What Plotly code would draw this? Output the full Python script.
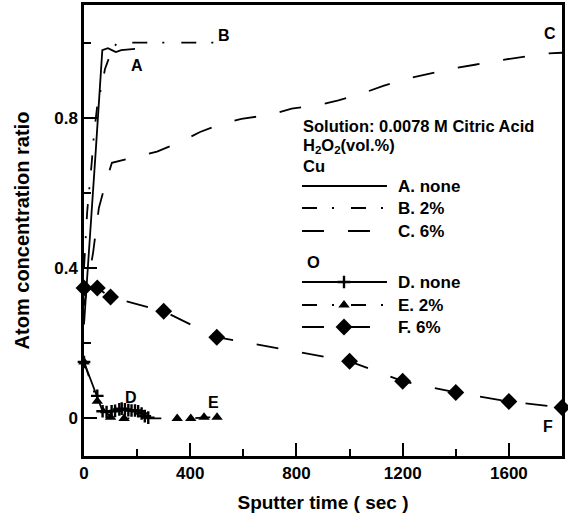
import plotly.graph_objects as go

# Cu signal, sputter time (s) vs atom concentration ratio
A_t = [0, 20, 45, 69, 90, 105, 120, 140, 192]
A_v = [0.25, 0.45, 0.72, 0.98, 0.985, 0.98, 0.975, 0.98, 0.983]

B_t = [0, 12, 29, 38, 53, 66, 79, 100, 124, 200, 300, 400, 500]
B_v = [0.40, 0.55, 0.68, 0.76, 0.85, 0.88, 0.93, 0.97, 1.0, 1.0, 1.0, 1.0, 1.0]

C_t = [0, 23, 34, 45, 56, 79, 105, 192, 275, 361, 437, 518, 593, 700, 782,
       876, 958, 1045, 1127, 1215, 1297, 1390, 1472, 1566, 1654, 1742, 1800]
C_v = [0.30, 0.39, 0.44, 0.50, 0.56, 0.62, 0.68, 0.695, 0.71, 0.735, 0.762,
       0.784, 0.797, 0.808, 0.824, 0.833, 0.846, 0.864, 0.885, 0.904, 0.917,
       0.931, 0.941, 0.953, 0.962, 0.971, 0.973]

# O signal
D_t = [0, 50, 70, 85, 104, 117, 133, 142, 154, 167, 179, 192, 204, 217, 229, 242]
D_v = [0.15, 0.06, 0.019, 0.017, 0.019, 0.02, 0.024, 0.026, 0.024, 0.022,
       0.021, 0.021, 0.019, 0.013, 0.006, 0.002]

E_t = [0, 50, 100, 151, 351, 402, 452, 501]
E_v = [0.15, 0.046, 0.003, 0.0, 0.0, 0.0, 0.003, 0.003]

F_t = [0, 50, 100, 300, 500, 1000, 1200, 1400, 1600, 1800]
F_v = [0.347, 0.347, 0.323, 0.285, 0.216, 0.152, 0.099, 0.069, 0.045, 0.029]

x_ticks = [0, 400, 800, 1200, 1600]
y_ticks = [0, 0.4, 0.8]
y_tick_text = ["0", "0.4", "0.8"]

FONT = "Liberation Sans, Arial, sans-serif"
LW = 1.8
DASH_B = "15px,15px,2px,17px"
DASH_C = "22px,24px"

styles = {
    "A": dict(line=dict(color="black", width=LW, dash="solid")),
    "B": dict(line=dict(color="black", width=LW, dash=DASH_B)),
    "C": dict(line=dict(color="black", width=LW, dash=DASH_C)),
    "D": dict(line=dict(color="black", width=LW, dash="solid"),
              marker=dict(symbol="cross-thin", size=9, color="black",
                          line=dict(color="black", width=2.4))),
    "E": dict(line=dict(color="black", width=LW, dash=DASH_B),
              marker=dict(symbol="triangle-up", size=10, color="black")),
    "F": dict(line=dict(color="black", width=LW, dash=DASH_C),
              marker=dict(symbol="diamond", size=13, color="black")),
}

series = [("A", A_t, A_v), ("B", B_t, B_v), ("C", C_t, C_v),
          ("D", D_t, D_v), ("E", E_t, E_v), ("F", F_t, F_v)]

fig = go.Figure()
for name, t, v in series:
    mode = "lines+markers" if "marker" in styles[name] else "lines"
    fig.add_trace(go.Scatter(x=t, y=v, mode=mode, name=name, showlegend=False,
                             cliponaxis=False, **styles[name]))

# curve labels
curve_labels = [("A", 200, 0.939), ("B", 527, 1.019), ("C", 1755, 1.024),
                ("D", 177, 0.056), ("E", 486, 0.043), ("F", 1747, -0.021)]
for txt, x, y in curve_labels:
    fig.add_annotation(x=x, y=y, text="<b>%s</b>" % txt, showarrow=False,
                       font=dict(family=FONT, size=16, color="black"))

# key drawn on a hidden pixel-space overlay
key_rows = [("A", 186, "A. none"), ("B", 208, "B. 2%"), ("C", 231, "C. 6%"),
            ("D", 282, "D. none"), ("E", 305, "E. 2%"), ("F", 327, "F. 6%")]
for name, ky, label in key_rows:
    st = styles[name]
    fig.add_trace(go.Scatter(x=[302, 387], y=[ky, ky], mode="lines",
                             xaxis="x2", yaxis="y2", showlegend=False,
                             hoverinfo="skip", line=st["line"]))
    if "marker" in st:
        fig.add_trace(go.Scatter(x=[344], y=[ky], mode="markers",
                                 xaxis="x2", yaxis="y2", showlegend=False,
                                 hoverinfo="skip", marker=st["marker"]))
    fig.add_annotation(x=397, y=ky, xref="x2", yref="y2", text="<b>%s</b>" % label,
                       xanchor="left", showarrow=False, borderpad=0,
                       font=dict(family=FONT, size=17, color="black"))

headers = [(302, 126, "Solution: 0.0078 M Citric Acid"),
           (302, 146, "H<sub>2</sub>O<sub>2</sub>(vol.%)"),
           (302, 166, "Cu"),
           (306, 262, "O")]
for hx, hy, txt in headers:
    fig.add_annotation(x=hx, y=hy, xref="x2", yref="y2", text="<b>%s</b>" % txt,
                       xanchor="left", showarrow=False, borderpad=0,
                       font=dict(family=FONT, size=16.5, color="black"))

axis_common = dict(showgrid=False, zeroline=False, showline=True, linecolor="black",
                   linewidth=2.5, mirror=True, ticks="inside", tickwidth=2,
                   ticklen=13, tickcolor="black", automargin=False,
                   tickfont=dict(family=FONT, size=17, color="black", weight="bold"))

fig.update_layout(
    width=568, height=513,
    margin=dict(l=84, r=6, t=5, b=57),
    paper_bgcolor="white", plot_bgcolor="white",
    font=dict(family=FONT, color="black"),
    xaxis=dict(range=[0, 1800], tickmode="array", tickvals=x_ticks,
               minor=dict(dtick=200, tick0=0, ticks="inside", ticklen=7,
                          tickwidth=2, tickcolor="black"),
               title=dict(text="Sputter time ( sec )", standoff=19,
                          font=dict(family=FONT, size=19, color="black",
                                    weight="bold")),
               **axis_common),
    yaxis=dict(range=[-0.1, 1.1], tickmode="array", tickvals=y_ticks,
               ticktext=y_tick_text,
               minor=dict(dtick=0.2, tick0=0, ticks="inside", ticklen=7,
                          tickwidth=2, tickcolor="black"),
               title=dict(text="Atom concentration ratio", standoff=20,
                          font=dict(family=FONT, size=20, color="black",
                                    weight="bold")),
               **axis_common),
    xaxis2=dict(domain=[0, 1], range=[84, 562], visible=False, anchor="y2",
                overlaying="x"),
    yaxis2=dict(domain=[0, 1], range=[456, 5], visible=False, anchor="x2",
                overlaying="y"),
)

fig.write_html("out.html")
